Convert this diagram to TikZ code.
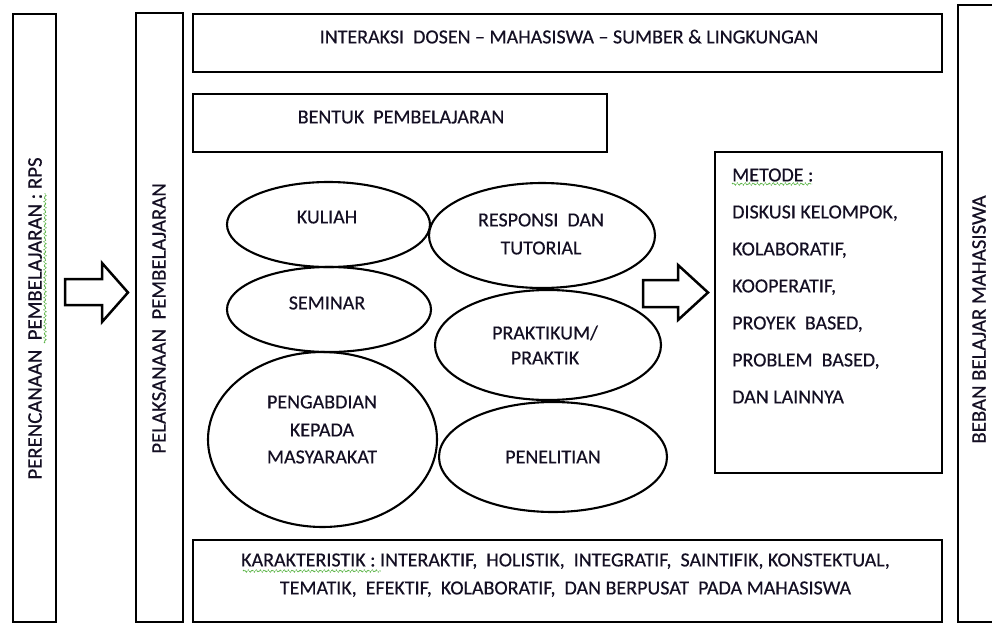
\documentclass[tikz,border=0pt]{standalone}
\usepackage{fontspec}
\setmainfont{Carlito}[FakeBold=0.35]
\usetikzlibrary{shapes.geometric,decorations.pathmorphing}
\definecolor{ink}{RGB}{20,15,35}
\definecolor{spellgreen}{RGB}{90,180,70}
\begin{document}
\begin{tikzpicture}[x=1pt,y=-1pt,
  box/.style={draw=black, line width=2.7pt, rectangle, inner sep=0pt, outer sep=0pt},
  ell/.style={draw=black, line width=2.1pt, ellipse, inner sep=0pt, outer sep=0pt},
  txt/.style={inner sep=0pt, text height=12.8pt, text depth=0pt, text=ink,
              font=\fontsize{20}{24}\selectfont},
  vtxt/.style={inner sep=0pt, text height=13.4pt, text depth=0pt, text=ink, rotate=90,
              font=\fontsize{20.8}{25}\selectfont},
  barrow/.style={draw=black, line width=2.5pt, line join=miter, fill=white},
  spell/.style={draw=spellgreen, line width=0.9pt, dash pattern=on 1.4pt off 0.9pt,
                decorate, decoration={snake, amplitude=1.1pt, segment length=4pt}}]
\useasboundingbox (0,0) rectangle (992,624);
\clip (0,0) rectangle (992,624);
\fill[white] (0,0) rectangle (992,624);

% outer columns
\node[box, minimum width=43, minimum height=608] (plan) at (34.5,318) {};
\node[box, minimum width=47, minimum height=609] (pel) at (159.5,317.5) {};
\node[box, minimum width=54, minimum height=617] (beban) at (985,313.5) {};
\node[vtxt] (plant) at (35,318.5) {PERENCANAAN\ \ PEMBELAJARAN\ : RPS};
\node[vtxt] (pelt) at (159,318.5) {PELAKSANAAN\ \ PEMBELAJARAN};
\node[vtxt] (bebant) at (979,319.5) {BEBAN BELAJAR MAHASISWA};

% top and bottom boxes
\node[box, minimum width=749, minimum height=58] (inter) at (567.5,43) {};
\node[txt] (intert) at (569,37) {INTERAKSI\ \ DOSEN -- MAHASISWA -- SUMBER \& LINGKUNGAN};
\node[box, minimum width=414, minimum height=58] (bentuk) at (400,123) {};
\node[txt] (bentukt) at (401,117) {BENTUK\ \ PEMBELAJARAN};
\node[box, minimum width=749, minimum height=82] (karak) at (567.5,581) {};
\node[txt] (karak1) at (565.5,560) {KARAKTERISTIK : INTERAKTIF,\ \ HOLISTIK,\ \ INTEGRATIF,\ \ SAINTIFIK, KONSTEKTUAL,};
\node[txt] (karak2) at (565.5,588) {TEMATIK,\ \ EFEKTIF,\ \ KOLABORATIF,\ \ DAN BERPUSAT\ \ PADA MAHASISWA};

% metode box
\node[box, minimum width=227, minimum height=321] (metode) at (828.5,312.5) {};
\foreach \t [count=\i from 0] in {{METODE :},{DISKUSI KELOMPOK,},{KOLABORATIF,},{KOOPERATIF,},{PROYEK\ \ BASED,},{PROBLEM\ \ BASED,},{DAN LAINNYA}}
  \node[txt, anchor=west] (met\i) at (732,175+37*\i) {\t};

% ellipses
\node[ell, minimum width=203, minimum height=85] (kul) at (328.5,224.5) {};
\node[ell, minimum width=226, minimum height=105] (resp) at (542,235.5) {};
\node[ell, minimum width=204, minimum height=85] (sem) at (329,309.5) {};
\node[ell, minimum width=226, minimum height=110] (prak) at (548,345) {};
\node[ell, minimum width=229, minimum height=175] (peng) at (322.5,439.5) {};
\node[ell, minimum width=228, minimum height=110] (pene) at (553,457) {};

\node[txt] (kult) at (327,217) {KULIAH};
\node[txt] (resp1) at (541,220) {RESPONSI\ \ DAN};
\node[txt] (resp2) at (541,248) {TUTORIAL};
\node[txt] (semt) at (327,303) {SEMINAR};
\node[txt] (prak1) at (545,333) {PRAKTIKUM/};
\node[txt] (prak2) at (545,358) {PRAKTIK};
\node[txt] (peng1) at (322,402) {PENGABDIAN};
\node[txt] (peng2) at (322,430) {KEPADA};
\node[txt] (peng3) at (322,457) {MASYARAKAT};
\node[txt] (penet) at (553,457) {PENELITIAN};

% block arrows
\draw[barrow] (65,279) -- (102,279) -- (102,263) -- (128,292.5) -- (102,322) -- (102,305) -- (65,305) -- cycle;
\draw[barrow] (643,280) -- (678,280) -- (678,265) -- (708,292.5) -- (678,320) -- (678,307) -- (643,307) -- cycle;

% spell-check underlines
\coordinate (sp1a) at (45,343); \coordinate (sp1b) at (45,193);
\draw[spell] (sp1a) -- (sp1b);
\coordinate (sp2a) at (732,184); \coordinate (sp2b) at (812,184);
\draw[spell] (sp2a) -- (sp2b);
\coordinate (sp3a) at (243,571); \coordinate (sp3b) at (381,571);
\draw[spell] (sp3a) -- (sp3b);
\end{tikzpicture}
\end{document}
